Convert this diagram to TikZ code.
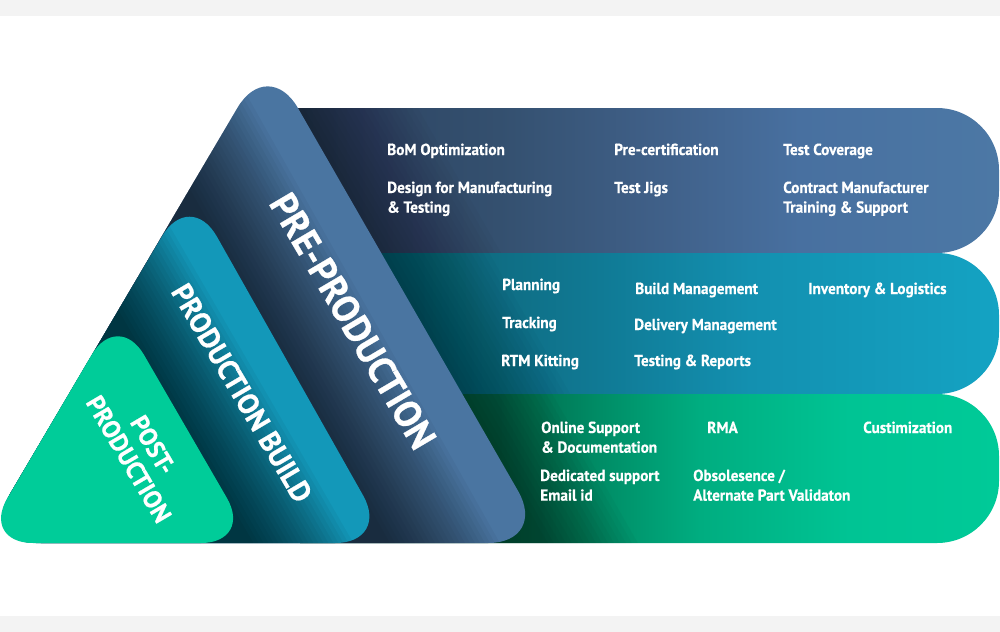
\documentclass[tikz,border=0pt]{standalone}
\usepackage{fontspec}
\setmainfont{PT Sans}
\newfontfamily\bandfont{PT Sans}[FakeStretch=0.95, FakeBold=0.5]
\newfontfamily\labelfont{PT Sans}[FakeStretch=0.97, FakeBold=0.7]

\definecolor{bgGray}{HTML}{F3F3F3}
\definecolor{preLight}{HTML}{4A75A1}
\definecolor{buildLight}{HTML}{1398B9}
\definecolor{postGreen}{HTML}{00CC99}
% top band
\definecolor{tbA}{HTML}{2C4260}
\definecolor{tbB}{HTML}{34506F}
\definecolor{tbC}{HTML}{3F5F87}
\definecolor{tbD}{HTML}{4870A0}
\definecolor{tbE}{HTML}{4C78A5}
% middle band
\definecolor{mbA}{HTML}{0E6477}
\definecolor{mbB}{HTML}{107A95}
\definecolor{mbC}{HTML}{1390B0}
\definecolor{mbD}{HTML}{14A3C3}
% bottom band
\definecolor{bbA}{HTML}{00684A}
\definecolor{bbB}{HTML}{008D66}
\definecolor{bbC}{HTML}{00AD80}
\definecolor{bbD}{HTML}{00C494}
\definecolor{bbE}{HTML}{00CA98}

\pgfdeclarehorizontalshading{topband}{100bp}{color(0bp)=(tbA); color(27.7bp)=(tbA); color(41.2bp)=(tbB); color(51.4bp)=(tbC); color(61.5bp)=(tbD); color(75bp)=(tbE); color(100bp)=(tbE)}
\pgfdeclarehorizontalshading{midband}{100bp}{color(0bp)=(mbA); color(33.6bp)=(mbA); color(46.5bp)=(mbB); color(57.2bp)=(mbC); color(75bp)=(mbD); color(100bp)=(mbD)}
\pgfdeclarehorizontalshading{botband}{100bp}{color(0bp)=(bbA); color(39.3bp)=(bbA); color(46.5bp)=(bbB); color(53.6bp)=(bbC); color(64.3bp)=(bbD); color(75bp)=(bbE); color(100bp)=(bbE)}

\tikzset{
  topbandpath/.style={insert path={(260,108) -- (937,108) arc[start angle=-90, end angle=0, radius=62] -- (999,191) arc[start angle=0, end angle=90, radius=62] -- (260,253) -- cycle}},
  midbandpath/.style={insert path={(300,253) -- (937,253) arc[start angle=-90, end angle=0, radius=62] -- (999,332) arc[start angle=0, end angle=90, radius=62] -- (300,394) -- cycle}},
  botbandpath/.style={insert path={(300,394) -- (937,394) arc[start angle=-90, end angle=0, radius=62] -- (999,481) arc[start angle=0, end angle=90, radius=62] -- (300,543) -- cycle}},
  pretri/.style={rounded corners=45pt, insert path={(264,543) -- (548,543) -- (268,56) -- (-19,543) -- cycle}},
  buildtri/.style={rounded corners=41pt, insert path={(185,543) -- (390,543) -- (190,189) -- (-19,543) -- cycle}},
  posttri/.style={rounded corners=39pt, insert path={(117,543) -- (253,543) -- (118,310) -- (-19,543) -- cycle}},
  bandtxt/.style={anchor=base west, inner sep=0pt, text=white, align=left,
    font=\bandfont\bfseries\fontsize{12}{14.8}\selectfont},
  tritxt/.style={inner sep=0pt, text=white, align=center, rotate=-59.5}
}

\begin{document}
\begin{tikzpicture}[x=0.75pt,y=-0.75pt]
\useasboundingbox (0,0) rectangle (1000,632);
\fill[white] (0,0) rectangle (1000,632);
\fill[bgGray] (0,0) rectangle (1000,15.5);
\fill[bgGray] (0,616) rectangle (1000,632);

% ---- bands ----
\shade[shading=topband, topbandpath];
\begin{scope}
  \clip[topbandpath];
  \foreach \h in {0,6,...,120}
    \fill[black, opacity=0.02] (-100,0) -- ({235.7+\h},0) -- ({603.7+\h},640) -- (-100,640) -- cycle;
\end{scope}
\shade[shading=midband, midbandpath];
\begin{scope}
  \clip[midbandpath];
  \foreach \h in {0,6,...,108}
    \fill[black, opacity=0.018] (-100,0) -- ({235.7+\h},0) -- ({603.7+\h},640) -- (-100,640) -- cycle;
\end{scope}
\shade[shading=botband, botbandpath];
\begin{scope}
  \clip[botbandpath];
  \foreach \h in {0,6,...,90}
    \fill[black, opacity=0.026] (-100,0) -- ({235.7+\h},0) -- ({603.7+\h},640) -- (-100,640) -- cycle;
\end{scope}

% ---- pre-production triangle ----
\fill[preLight, pretri];
\begin{scope}
  \clip[pretri];
  \foreach \h in {0,5,...,110}
    \fill[black, opacity=0.036] (-100,0) -- ({83.1+\h},0) -- ({444.7+\h},640) -- (-100,640) -- cycle;
\end{scope}
\node[tritxt, font=\labelfont\bfseries\fontsize{28.5}{32}\selectfont] (pre) at (353,321) {PRE-PRODUCTION};

% ---- production build triangle ----
\fill[buildLight, buildtri];
\begin{scope}
  \clip[buildtri];
  \foreach \h in {0,5,...,100}
    \fill[black, opacity=0.042] (-150,0) -- ({-61.6+\h},0) -- ({309.6+\h},640) -- (-150,640) -- cycle;
\end{scope}
\node[tritxt, font=\labelfont\bfseries\fontsize{22}{26}\selectfont] (build) at (242,393) {PRODUCTION BUILD};

% ---- post-production triangle ----
\fill[postGreen, posttri];
\node[tritxt, font=\labelfont\bfseries\fontsize{19}{21}\selectfont] (post) at (141,452) {POST-\\PRODUCTION};

% ---- band texts: pre-production ----
\node[bandtxt] (bom) at (387,155) {BoM Optimization};
\node[bandtxt] (dfm) at (387,212.7) {Design for Manufacturing\\\& Testing};
\node[bandtxt] (precert) at (614,155) {Pre-certification};
\node[bandtxt] (jigs) at (614,193) {Test Jigs};
\node[bandtxt] (cover) at (783,155) {Test Coverage};
\node[bandtxt] (cm) at (783,212.7) {Contract Manufacturer\\Training \& Support};

% ---- band texts: production build ----
\node[bandtxt] (plan) at (502,290) {Planning};
\node[bandtxt] (track) at (502,328) {Tracking};
\node[bandtxt] (rtm) at (501,366) {RTM Kitting};
\node[bandtxt] (buildm) at (635,294) {Build Management};
\node[bandtxt] (deliv) at (634,330) {Delivery Management};
\node[bandtxt] (testrep) at (634,366) {Testing \& Reports};
\node[bandtxt] (inv) at (808,294) {Inventory \& Logistics};

% ---- band texts: post-production ----
\node[bandtxt] (online) at (541,452.7) {Online Support\\\& Documentation};
\node[bandtxt] (rma) at (707,433) {RMA};
\node[bandtxt] (custom) at (863,433) {Custimization};
\node[bandtxt] (dedic) at (540,500.7) {Dedicated support\\Email id};
\node[bandtxt] (obso) at (693,500.7) {Obsolesence /\\Alternate Part Validaton};
\end{tikzpicture}
\end{document}
